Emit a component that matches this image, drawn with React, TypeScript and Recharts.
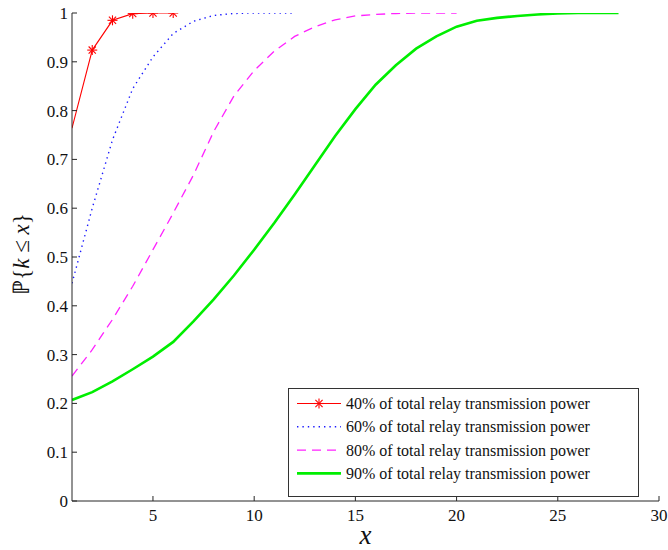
import React from 'react';
import { LineChart, Line, XAxis, YAxis, Legend } from 'recharts';

const xValues = [1, 2, 3, 4, 5, 6, 7, 8, 9, 10, 11, 12, 13, 14, 15, 16, 17, 18, 19, 20, 21, 22, 23, 24, 25, 26, 27, 28];
const p40 = [0.764, 0.924, 0.985, 0.9987, 1, 1];
const p60 = [0.446, 0.6, 0.74, 0.845, 0.91, 0.958, 0.983, 0.995, 0.999, 1, 1, 1];
const p80 = [0.256, 0.31, 0.372, 0.44, 0.515, 0.59, 0.668, 0.757, 0.83, 0.882, 0.922, 0.952, 0.972, 0.986, 0.994, 0.997, 0.999, 1, 1, 1];
const p90 = [0.207, 0.223, 0.245, 0.27, 0.296, 0.326, 0.368, 0.413, 0.462, 0.515, 0.57, 0.628, 0.688, 0.748, 0.803, 0.853, 0.893, 0.927, 0.952, 0.972, 0.984, 0.99, 0.994, 0.997, 0.999, 1, 1, 1];
const xTicks = [5, 10, 15, 20, 25, 30];
const yTicks = [0, 0.1, 0.2, 0.3, 0.4, 0.5, 0.6, 0.7, 0.8, 0.9, 1];
const seriesNames = [
  '40% of total relay transmission power',
  '60% of total relay transmission power',
  '80% of total relay transmission power',
  '90% of total relay transmission power',
];
const xTitle = 'x';

const seriesStyle: Record<string, { color: string; width: number; dash?: string }> = {
  p40: { color: '#ff0000', width: 1.1 },
  p60: { color: '#1a1aff', width: 1.4, dash: '1.4 4' },
  p80: { color: '#ff22ff', width: 1.3, dash: '9 6' },
  p90: { color: '#00ee00', width: 2.6 },
};

const data = xValues.map((x, i) => ({
  x,
  p40: p40[i],
  p60: p60[i],
  p80: p80[i],
  p90: p90[i],
}));

const SERIF = { fontFamily: '"Liberation Serif", "Times New Roman", serif' };

const Asterisk = ({ cx, cy, color }: { cx: number; cy: number; color: string }) => {
  const r = 5;
  const d = r * 0.72;
  return (
    <g stroke={color} strokeWidth={1.1}>
      <line x1={cx - r} y1={cy} x2={cx + r} y2={cy} />
      <line x1={cx} y1={cy - r} x2={cx} y2={cy + r} />
      <line x1={cx - d} y1={cy - d} x2={cx + d} y2={cy + d} />
      <line x1={cx - d} y1={cy + d} x2={cx + d} y2={cy - d} />
    </g>
  );
};

const renderRedDot = (props: any) => {
  const { cx, cy, index } = props;
  if (index === 0 || cx == null || cy == null || props.value == null) return <g key={`d${index}`} />;
  return (
    <g key={`d${index}`}>
      <Asterisk cx={cx} cy={cy} color={seriesStyle.p40.color} />
    </g>
  );
};

const renderLegend = (props: any) => {
  const payload = props.payload || [];
  const W = 351;
  const H = 109;
  return (
    <svg width={W} height={H} style={{ display: 'block' }}>
      <rect x={0.5} y={0.5} width={W - 1} height={H - 1} fill="#ffffff" stroke="#333333" strokeWidth={1} />
      {payload.map((entry: any, i: number) => {
        const key = entry.dataKey as string;
        const st = seriesStyle[key];
        const y = 15.5 + i * 23.3;
        return (
          <g key={key}>
            <line x1={9} y1={y} x2={53} y2={y} stroke={st.color} strokeWidth={st.width} strokeDasharray={st.dash} />
            {key === 'p40' ? <Asterisk cx={31} cy={y} color={st.color} /> : null}
            <text x={58} y={y + 5.5} fontSize={16} fill="#111" style={SERIF}>
              {entry.value}
            </text>
          </g>
        );
      })}
    </svg>
  );
};

const XTick = (props: any) => {
  const { x, payload } = props;
  return (
    <text x={x} y={521} textAnchor="middle" fontSize={17} fill="#111" style={SERIF}>
      {payload.value}
    </text>
  );
};

const YTick = (props: any) => {
  const { y, payload } = props;
  return (
    <text x={68} y={y + 6} textAnchor="end" fontSize={17} fill="#111" style={SERIF}>
      {String(Math.round(payload.value * 10) / 10)}
    </text>
  );
};

const axisStroke = '#262626';

export default function App() {
  return (
    <div style={{ position: 'absolute', left: 0, top: 0, width: 668, height: 550, background: '#fff' }}>
      <LineChart width={668} height={550} data={data} margin={{ top: 13, right: 9, bottom: 0, left: 0 }}>
        <XAxis
          xAxisId="b"
          dataKey="x"
          type="number"
          domain={[1, 30]}
          ticks={xTicks}
          allowDataOverflow
          height={49}
          tickSize={-5}
          tick={<XTick />}
          axisLine={{ stroke: axisStroke }}
          tickLine={{ stroke: axisStroke }}
        />
        <XAxis
          xAxisId="t"
          dataKey="x"
          type="number"
          orientation="top"
          domain={[1, 30]}
          ticks={xTicks}
          allowDataOverflow
          height={0}
          tickSize={-5}
          tick={false}
          axisLine={{ stroke: axisStroke }}
          tickLine={{ stroke: axisStroke }}
        />
        <YAxis
          yAxisId="l"
          type="number"
          domain={[0, 1]}
          ticks={yTicks}
          allowDataOverflow
          width={72}
          tickSize={-5}
          tick={<YTick />}
          axisLine={{ stroke: axisStroke }}
          tickLine={{ stroke: axisStroke }}
        />
        <YAxis
          yAxisId="r"
          type="number"
          orientation="right"
          domain={[0, 1]}
          ticks={yTicks}
          allowDataOverflow
          width={0}
          tickSize={-5}
          tick={false}
          axisLine={{ stroke: axisStroke }}
          tickLine={{ stroke: axisStroke }}
        />
        <Legend
          layout="horizontal"
          align="center"
          verticalAlign="middle"
          content={renderLegend}
          wrapperStyle={{ position: 'absolute', left: 288, top: 388, width: 351, height: 109 }}
        />
        <Line xAxisId="b" yAxisId="l" dataKey="p40" name={seriesNames[0]} stroke={seriesStyle.p40.color}
          strokeWidth={seriesStyle.p40.width} dot={renderRedDot} activeDot={false} isAnimationActive={false} />
        <Line xAxisId="b" yAxisId="l" dataKey="p60" name={seriesNames[1]} stroke={seriesStyle.p60.color}
          strokeWidth={seriesStyle.p60.width} strokeDasharray={seriesStyle.p60.dash} dot={false} activeDot={false}
          isAnimationActive={false} />
        <Line xAxisId="b" yAxisId="l" dataKey="p80" name={seriesNames[2]} stroke={seriesStyle.p80.color}
          strokeWidth={seriesStyle.p80.width} strokeDasharray={seriesStyle.p80.dash} dot={false} activeDot={false}
          isAnimationActive={false} />
        <Line xAxisId="b" yAxisId="l" dataKey="p90" name={seriesNames[3]} stroke={seriesStyle.p90.color}
          strokeWidth={seriesStyle.p90.width} dot={false} activeDot={false} isAnimationActive={false} />
      </LineChart>
      <svg
        width={668}
        height={550}
        style={{ position: 'absolute', left: 0, top: 0, pointerEvents: 'none' }}
      >
        <text x={365.5} y={544} textAnchor="middle" fontStyle="italic" fontSize={27} fill="#111" style={SERIF}>
          {xTitle}
        </text>
        <text x={0} y={0} transform="translate(29,254) rotate(-90)" textAnchor="middle" fontSize={23} fill="#111" style={SERIF}>
          <tspan>ℙ</tspan>
          <tspan>{'{'}</tspan>
          <tspan fontStyle="italic">k</tspan>
          <tspan> ≤ </tspan>
          <tspan fontStyle="italic">x</tspan>
          <tspan>{'}'}</tspan>
        </text>
      </svg>
    </div>
  );
}
